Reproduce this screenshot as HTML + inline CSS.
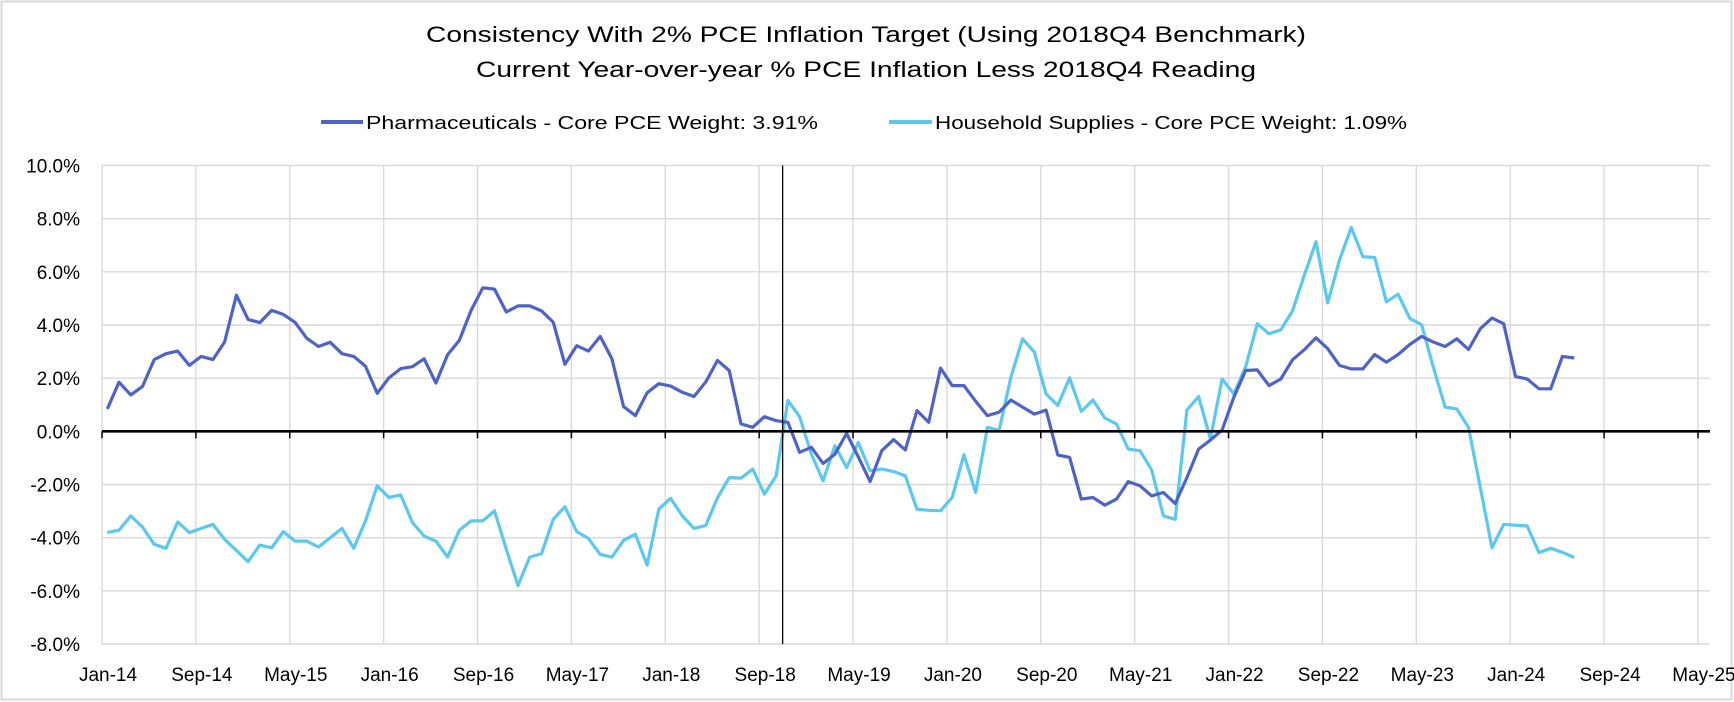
<!DOCTYPE html>
<html><head><meta charset="utf-8"><style>
html,body{margin:0;padding:0;background:#fff;}
svg{display:block;font-family:"Liberation Sans",sans-serif;}
</style></head><body>
<svg id="chart" width="1734" height="702" viewBox="0 0 1734 702">
<rect x="1.5" y="1.5" width="1730" height="698" fill="#fff" stroke="#d9d9d9" stroke-width="2"/>
<text x="866" y="42" text-anchor="middle" font-size="22" textLength="880" lengthAdjust="spacingAndGlyphs">Consistency With 2% PCE Inflation Target (Using 2018Q4 Benchmark)</text>
<text x="866" y="77" text-anchor="middle" font-size="22" textLength="780" lengthAdjust="spacingAndGlyphs">Current Year-over-year % PCE Inflation Less 2018Q4 Reading</text>
<g>
<g>
<line x1="321" y1="122" x2="363" y2="122" stroke="#4f63c6" stroke-width="4"/>
<text x="366" y="129" font-size="18" textLength="452" lengthAdjust="spacingAndGlyphs">Pharmaceuticals - Core PCE Weight: 3.91%</text>
</g>
<g>
<line x1="889" y1="122" x2="932" y2="122" stroke="#5bc8f0" stroke-width="4"/>
<text x="935" y="129" font-size="18" textLength="472" lengthAdjust="spacingAndGlyphs">Household Supplies - Core PCE Weight: 1.09%</text>
</g>
</g>
<g id="grid"></g>
<g id="series"></g>
<g id="axes"></g>
</svg>
<script>
const xLabels=["Jan-14","Sep-14","May-15","Jan-16","Sep-16","May-17","Jan-18","Sep-18","May-19","Jan-20","Sep-20","May-21","Jan-22","Sep-22","May-23","Jan-24","Sep-24","May-25"];
const yTicks=[10,8,6,4,2,0,-2,-4,-6,-8];
const pharma=[0.84,1.85,1.37,1.69,2.7,2.92,3.02,2.48,2.82,2.7,3.36,5.12,4.21,4.09,4.55,4.4,4.1,3.5,3.19,3.35,2.92,2.82,2.45,1.43,2.01,2.36,2.43,2.73,1.82,2.88,3.42,4.55,5.4,5.35,4.49,4.72,4.72,4.53,4.11,2.52,3.22,3.02,3.57,2.73,0.93,0.59,1.45,1.79,1.7,1.47,1.31,1.86,2.67,2.29,0.28,0.15,0.55,0.4,0.34,-0.79,-0.6,-1.21,-0.86,-0.08,-0.96,-1.89,-0.73,-0.31,-0.7,0.78,0.34,2.38,1.72,1.72,1.13,0.59,0.72,1.18,0.91,0.65,0.8,-0.89,-0.98,-2.55,-2.49,-2.78,-2.55,-1.89,-2.05,-2.43,-2.3,-2.72,-1.74,-0.67,-0.33,0.05,1.28,2.29,2.31,1.72,1.97,2.69,3.07,3.52,3.11,2.48,2.35,2.35,2.89,2.6,2.89,3.27,3.57,3.36,3.19,3.48,3.08,3.86,4.26,4.05,2.06,1.97,1.6,1.6,2.82,2.76];
const household=[-3.81,-3.72,-3.18,-3.6,-4.25,-4.4,-3.41,-3.81,-3.65,-3.5,-4.06,-4.48,-4.9,-4.28,-4.38,-3.77,-4.13,-4.13,-4.35,-4,-3.65,-4.4,-3.37,-2.05,-2.49,-2.39,-3.43,-3.94,-4.13,-4.73,-3.72,-3.37,-3.37,-2.99,-4.44,-5.8,-4.73,-4.6,-3.31,-2.84,-3.77,-4.03,-4.63,-4.73,-4.1,-3.87,-5.03,-2.93,-2.52,-3.18,-3.65,-3.54,-2.5,-1.74,-1.76,-1.42,-2.36,-1.67,1.16,0.55,-0.86,-1.86,-0.54,-1.36,-0.42,-1.48,-1.42,-1.51,-1.67,-2.93,-2.97,-2.99,-2.49,-0.88,-2.3,0.15,0.03,2.04,3.48,2.98,1.41,0.97,2.01,0.75,1.18,0.5,0.28,-0.67,-0.73,-1.46,-3.18,-3.31,0.8,1.31,-0.29,1.97,1.41,2.42,4.05,3.67,3.82,4.53,5.87,7.13,4.83,6.44,7.67,6.57,6.54,4.87,5.16,4.24,4.01,2.42,0.91,0.84,0.15,-2.11,-4.38,-3.5,-3.53,-3.56,-4.56,-4.4,-4.55,-4.75];
const benchmarkMonth=58;

const NS="http://www.w3.org/2000/svg";
const X0=102, MPX=11.735, XR=1710, Y10=165.5, YM8=644;
function xMonth(m){return X0+m*MPX;}
function xPoint(i){return X0+(i+0.45)*MPX;}
function yVal(v){return Y10+(10-v)*(YM8-Y10)/18;}
function mk(tag,attrs,parent){const e=document.createElementNS(NS,tag);for(const k in attrs)e.setAttribute(k,attrs[k]);parent.appendChild(e);return e;}
const grid=document.getElementById('grid'),series=document.getElementById('series'),axes=document.getElementById('axes');
yTicks.forEach(v=>{
  if(v!==0){const l=mk('line',{x1:X0,x2:XR,y1:yVal(v),y2:yVal(v),stroke:'#d9d9d9','stroke-width':1.4},grid);
  
  }
  const t=mk('text',{x:80,y:yVal(v)+7,'text-anchor':'end','font-size':19},axes);
  t.textContent=v.toFixed(1)+'%';
  
  
});
xLabels.forEach((lab,k)=>{
  const x=xMonth(k*8);
  const l=mk('line',{x1:x,x2:x,y1:Y10,y2:YM8,stroke:'#d9d9d9','stroke-width':1.4},grid);
  
  
  const tk=mk('line',{x1:x,x2:x,y1:yVal(0),y2:yVal(0)+7,stroke:'#000','stroke-width':1.5},axes);
  
  
  const t=mk('text',{x:x+6,y:681,'text-anchor':'middle','font-size':19},axes);
  t.textContent=lab;
  
  
});
function drawSeries(data,color,name){
  const pts=data.map((v,i)=>xPoint(i).toFixed(1)+','+yVal(v).toFixed(1)).join(' ');
  const p=mk('polyline',{points:pts,fill:'none',stroke:color,'stroke-width':3.2,'stroke-linejoin':'round'},series);
  
  
}
drawSeries(household,'#5bc8f0','household-supplies-line');
drawSeries(pharma,'#4f63c6','pharmaceuticals-line');
const z=mk('line',{x1:X0,x2:XR,y1:yVal(0),y2:yVal(0),stroke:'#000','stroke-width':2.6},axes);


const bm=mk('line',{x1:xMonth(benchmarkMonth),x2:xMonth(benchmarkMonth),y1:Y10,y2:YM8,stroke:'#000','stroke-width':1.3},axes);


</script>
</body></html>
